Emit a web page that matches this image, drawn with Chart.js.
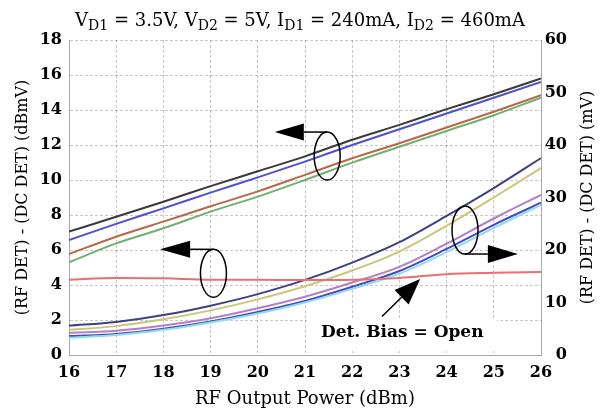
<!DOCTYPE html>
<html>
<head>
<meta charset="utf-8">
<script src="https://cdn.jsdelivr.net/npm/chart.js@4"></script>
<style>
  html, body { margin: 0; padding: 0; background: #fff; }
  #wrap { width: 606px; height: 418px; position: relative; }
</style>
</head>
<body>
<div id="wrap"><canvas id="detChart" width="606" height="418"></canvas></div>
<script>
// RF output power (dBm)
const powerDbm = [16, 17, 18, 19, 20, 21, 22, 23, 24, 25, 26];

// left axis curves (dBmV)
const dbmvBlack = [7.05, 7.9, 8.76, 9.65, 10.5, 11.35, 12.3, 13.15, 14.05, 14.9, 15.8];
const dbmvBlue  = [6.57, 7.49, 8.38, 9.28, 10.15, 11.05, 12.0, 12.9, 13.8, 14.7, 15.6];
const dbmvBrown = [5.77, 6.76, 7.62, 8.5, 9.35, 10.29, 11.24, 12.1, 13.0, 13.9, 14.85];
const dbmvGreen = [5.3, 6.38, 7.24, 8.19, 9.05, 10.0, 10.99, 11.9, 12.8, 13.7, 14.7];
const dbmvOpen  = [4.3, 4.4, 4.38, 4.3, 4.3, 4.28, 4.3, 4.4, 4.62, 4.7, 4.75];

// right axis curves (mV)
const mvNavy   = [5.6, 6.3, 7.6, 9.4, 11.6, 14.3, 17.6, 21.5, 26.5, 31.8, 37.5];
const mvOlive  = [4.8, 5.5, 6.8, 8.5, 10.6, 13.1, 16.1, 19.7, 24.6, 30.0, 35.6];
const mvPurple = [4.2, 4.6, 5.6, 7.0, 8.9, 11.1, 13.8, 16.8, 21.2, 26.0, 30.5];
const mvBlue   = [3.6, 4.0, 5.0, 6.4, 8.2, 10.3, 13.0, 16.0, 20.2, 24.8, 29.0];
const mvCyan   = [3.3, 3.8, 4.8, 6.2, 7.9, 10.0, 12.6, 15.5, 19.6, 24.2, 28.6];

const leftTicks = [0, 2, 4, 6, 8, 10, 12, 14, 16, 18];
const rightTicks = [0, 10, 20, 30, 40, 50, 60];

const FONT = "'DejaVu Serif', 'Liberation Serif', serif";

function pts(vals) {
    return powerDbm.map((x, i) => ({ x: x, y: vals[i] }));
}
function line(vals, color, axis) {
    return {
        data: pts(vals),
        yAxisID: axis,
        borderColor: color,
        borderWidth: 2,
        pointRadius: 0,
        fill: false,
        cubicInterpolationMode: 'monotone'
    };
}

// title with subscripts, right axis title, ellipses + arrows + note box
const decor = {
    id: 'decor',
    afterDatasetsDraw(chart) {
        const c = chart.ctx;
        const xs = chart.scales.x, yl = chart.scales.y;
        const X = v => xs.getPixelForValue(v);
        const Y = v => yl.getPixelForValue(v);
        c.save();
        c.strokeStyle = '#000';
        c.fillStyle = '#000';
        c.lineWidth = 1.5;

        function ellipse(cx, cy) {
            c.beginPath();
            c.ellipse(X(cx), Y(cy), 13, 24, 0, 0, Math.PI * 2);
            c.stroke();
        }
        function arrow(x0, y0, x1, y1, len, half) {
            const ax = X(x0), ay = Y(y0), bx = X(x1), by = Y(y1);
            const ang = Math.atan2(by - ay, bx - ax);
            const baseX = bx - Math.cos(ang) * len, baseY = by - Math.sin(ang) * len;
            c.beginPath();
            c.moveTo(ax, ay);
            c.lineTo(baseX, baseY);
            c.stroke();
            c.beginPath();
            c.moveTo(bx, by);
            c.lineTo(baseX + Math.sin(ang) * half, baseY - Math.cos(ang) * half);
            c.lineTo(baseX - Math.sin(ang) * half, baseY + Math.cos(ang) * half);
            c.closePath();
            c.fill();
        }
        // upper group
        ellipse(21.47, 11.37);
        arrow(21.47, 12.74, 20.36, 12.74, 29, 8.5);
        // open-bias line
        ellipse(19.06, 4.67);
        arrow(19.06, 6.04, 17.93, 6.04, 30, 8.5);
        // lower group (right axis)
        ellipse(24.39, 7.14);
        arrow(24.39, 5.77, 25.51, 5.77, 30, 9);

        // note box
        const bx0 = X(21.04), bx1 = X(25.07), by0 = Y(2.06), by1 = Y(0.23);
        c.fillStyle = '#fff';
        c.fillRect(bx0, by0, bx1 - bx0, by1 - by0);
        c.fillStyle = '#000';
        arrow(22.63, 2.2, 23.44, 4.34, 26, 10);
        c.font = "bold 17px " + FONT;
        c.textAlign = 'center';
        c.textBaseline = 'middle';
        c.fillText('Det. Bias = Open', X(23.06), Y(1.26));

        // right axis title, reading upward
        c.save();
        c.translate(588, (chart.chartArea.top + chart.chartArea.bottom) / 2);
        c.rotate(-Math.PI / 2);
        c.font = "16px " + FONT;
        c.fillText('(RF DET) - (DC DET) (mV)', 0, 0);
        c.restore();

        // top title
        const parts = [['V', 0], ['D1', 1], [' = 3.5V, V', 0], ['D2', 1], [' = 5V, I', 0], ['D1', 1],
                       [' = 240mA, I', 0], ['D2', 1], [' = 460mA', 0]];
        const big = "18px " + FONT, small = "14px " + FONT;
        let w = 0;
        parts.forEach(p => { c.font = p[1] ? small : big; w += c.measureText(p[0]).width; });
        let x = 300 - w / 2;
        c.textAlign = 'left';
        c.textBaseline = 'alphabetic';
        parts.forEach(p => {
            c.font = p[1] ? small : big;
            c.fillText(p[0], x, p[1] ? 30 : 26);
            x += c.measureText(p[0]).width;
        });
        c.restore();
    }
};

const gridStyle = { color: 'rgba(0,0,0,0.22)', drawTicks: false, lineWidth: 1 };

new Chart(document.getElementById('detChart').getContext('2d'), {
    type: 'line',
    data: {
        datasets: [
            line(dbmvBlack, '#3a3a3a', 'y'),
            line(dbmvBlue, '#5050d0', 'y'),
            line(dbmvBrown, '#b86848', 'y'),
            line(dbmvGreen, '#70b070', 'y'),
            line(dbmvOpen, '#e87070', 'y'),
            line(mvCyan, '#90dde8', 'y2'),
            line(mvBlue, '#4a4ac0', 'y2'),
            line(mvPurple, '#b080c8', 'y2'),
            line(mvOlive, '#c8c878', 'y2'),
            line(mvNavy, '#404080', 'y2')
        ]
    },
    options: {
        responsive: false,
        animation: false,
        layout: { padding: { top: 40, right: 39, left: 0, bottom: 0 } },
        plugins: { legend: { display: false }, tooltip: { enabled: false } },
        scales: {
            x: {
                type: 'linear', min: 16, max: 26,
                afterFit: s => { s.height = 63; },
                afterBuildTicks: s => { s.ticks = powerDbm.map(v => ({ value: v })); },
                grid: gridStyle,
                border: { color: '#aaa', dash: [3, 2] },
                ticks: { padding: 8, color: '#000', font: { family: FONT, size: 16, weight: 'bold' } },
                title: { display: true, text: 'RF Output Power (dBm)', color: '#000',
                         padding: { top: 0, bottom: 8 }, font: { family: FONT, size: 18 } }
            },
            y: {
                position: 'left', min: 0, max: 18,
                afterFit: s => { s.width = 69; },
                afterBuildTicks: s => { s.ticks = leftTicks.map(v => ({ value: v })); },
                grid: gridStyle,
                border: { color: '#aaa', dash: [3, 2] },
                ticks: { padding: 7, color: '#000', font: { family: FONT, size: 16, weight: 'bold' } },
                title: { display: true, text: '(RF DET) - (DC DET) (dBmV)', color: '#000',
                         padding: { top: 13, bottom: 0 }, font: { family: FONT, size: 16 } }
            },
            y2: {
                position: 'right', min: 0, max: 60,
                afterFit: s => { s.width = 26; },
                afterBuildTicks: s => { s.ticks = rightTicks.map(v => ({ value: v })); },
                grid: { drawOnChartArea: false, drawTicks: false },
                border: { color: '#aaa' },
                ticks: { crossAlign: 'far', color: '#000', font: { family: FONT, size: 16, weight: 'bold' } }
            }
        }
    },
    plugins: [decor]
});
</script>
</body>
</html>
